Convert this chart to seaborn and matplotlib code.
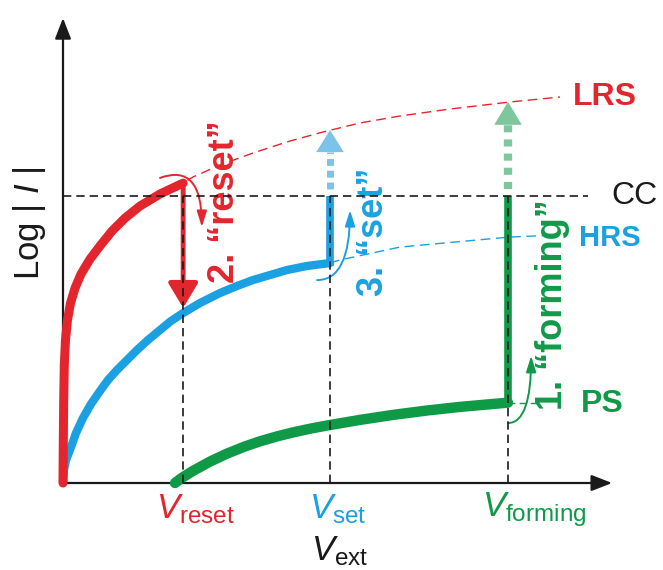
import numpy as np
import seaborn as sns
import matplotlib.pyplot as plt
from matplotlib.patches import FancyArrowPatch, Polygon

red = '#e3262d'
blue = '#1ba1e2'
green = '#0f9a48'
light_blue = '#7cc3ea'
light_green = '#7ec79c'
ink = '#1a1a1a'

# switching voltages and compliance current (arbitrary units)
v_reset, v_set, v_forming = 2.7, 6.0, 10.0
cc = 10.0

# LRS branch (red) up to the reset point
lrs_v = [0, 0.007, 0.016, 0.029, 0.056, 0.101, 0.169, 0.27, 0.404, 0.607, 0.831,
         1.101, 1.393, 1.73, 2.18, 2.7]
lrs_i = [0, 1.50, 2.89, 4.11, 4.98, 5.68, 6.27, 6.79, 7.28, 7.80, 8.26,
         8.78, 9.23, 9.65, 10.07, 10.45]

# HRS branch (blue) up to the set point
hrs_v = [0, 0.022, 0.067, 0.157, 0.292, 0.449, 0.629, 0.831, 1.011, 1.213, 1.438, 1.663,
         1.91, 2.18, 2.427, 2.7, 3.079, 3.528, 3.91, 4.27, 4.652, 5.034, 5.483, 6.0]
hrs_i = [0, 0.453, 0.801, 1.15, 1.742, 2.265, 2.753, 3.206, 3.589, 3.937, 4.286, 4.634,
         4.983, 5.331, 5.645, 5.923, 6.272, 6.62, 6.864, 7.073, 7.247, 7.422, 7.561, 7.666]

# pristine state (green) up to forming
ps_v = [2.517, 2.674, 2.921, 3.303, 3.685, 4.09, 4.427, 4.809, 5.169, 5.551, 5.933,
        6.674, 7.416, 8.18, 8.921, 10.0]
ps_i = [0, 0.183, 0.422, 0.746, 1.024, 1.275, 1.453, 1.624, 1.763, 1.892, 2.003,
        2.199, 2.373, 2.526, 2.652, 2.80]

# thin dashed continuations
lrs_ext_v = [2.8, 2.921, 3.528, 4.27, 5.101, 5.843, 6.674, 7.573, 8.697, 10.045, 11.169]
lrs_ext_i = [10.55, 10.662, 11.08, 11.498, 11.916, 12.23, 12.544, 12.787, 13.031, 13.275, 13.449]
hrs_ext_v = [6.0, 6.22, 7.57, 10.04, 11.1]
hrs_ext_i = [7.67, 7.77, 8.22, 8.57, 8.64]

reset_tip = 6.1
set_tip = 12.3
forming_tip = 13.28
v_axis_end, i_axis_end = 12.34, 16.2

sns.set_style('white')
plt.rcParams['font.family'] = ['Liberation Sans', 'DejaVu Sans']
plt.rcParams['mathtext.fontset'] = 'custom'
plt.rcParams['mathtext.rm'] = 'Liberation Sans'
plt.rcParams['mathtext.it'] = 'Liberation Sans:italic'

fig = plt.figure(figsize=(6.63, 5.70), dpi=100)
ax = fig.add_axes([0, 0, 1, 1])
ax.set_xlim(-1.4157, 13.483)
ax.set_ylim(-3.031, 16.829)
ax.axis('off')

# axes with arrows
for xy in [(v_axis_end, 0), (0, i_axis_end)]:
    ax.annotate('', xy=xy, xytext=(0, 0),
                arrowprops=dict(arrowstyle='-|>,head_length=0.9,head_width=0.35', mutation_scale=14,
                                lw=1.6, color=ink, shrinkA=0, shrinkB=0), zorder=2)

# thin dashed state lines
sns.lineplot(x=lrs_ext_v, y=lrs_ext_i, sort=False, estimator=None, color=red, linewidth=1.0,
             ax=ax, zorder=1).lines[-1].set_dashes((7, 4))
sns.lineplot(x=hrs_ext_v, y=hrs_ext_i, sort=False, estimator=None, color=blue, linewidth=1.0,
             ax=ax, zorder=1).lines[-1].set_dashes((7, 4))
ax.plot([v_forming, 10.7], [ps_i[-1], ps_i[-1]], color=green, lw=1.0, dashes=(5, 3), zorder=1)

# main curves
sns.lineplot(x=ps_v, y=ps_i, sort=False, estimator=None, color=green, linewidth=7.5, ax=ax,
             solid_capstyle='round', zorder=3)
ax.plot([v_forming, v_forming], [ps_i[-1] - 0.1, cc], color=green, lw=5.5, solid_capstyle='butt', zorder=3)
sns.lineplot(x=hrs_v, y=hrs_i, sort=False, estimator=None, color=blue, linewidth=6, ax=ax,
             solid_capstyle='round', zorder=3)
ax.plot([v_set, v_set], [hrs_i[-1] - 0.1, cc], color=blue, lw=5.5, solid_capstyle='butt', zorder=3)
sns.lineplot(x=lrs_v, y=lrs_i, sort=False, estimator=None, color=red, linewidth=6.5, ax=ax,
             solid_capstyle='round', zorder=4)

# reset arrow
ax.annotate('', xy=(v_reset, reset_tip), xytext=(v_reset, lrs_i[-1] - 0.1),
            arrowprops=dict(arrowstyle='-|>,head_length=1.0,head_width=0.6', mutation_scale=15,
                            lw=3.5, color=red, shrinkA=0, shrinkB=0), zorder=4)

# light dashed arrows (set, forming)
hw = 0.31
for v, tip, col, hl, lw, dsh in [(v_set, set_tip, light_blue, 0.77, 5, (1.0, 0.7)),
                                 (v_forming, forming_tip, light_green, 0.8, 6, (0.85, 0.85))]:
    ax.plot([v, v], [cc + 0.25, tip - hl], color=col, lw=lw, dashes=dsh,
            solid_capstyle='butt', dash_capstyle='butt', zorder=2)
    ax.add_patch(Polygon([(v - hw, tip - hl), (v + hw, tip - hl), (v, tip)],
                         closed=True, color=col, lw=0, zorder=2))

# black dashed guides
dash = dict(color=ink, lw=1.2, dashes=(5, 3), zorder=6)
ax.plot([0, 11.8], [cc, cc], **dash)
for v in [v_reset, v_set, v_forming]:
    ax.plot([v, v], [0, cc], **dash)

# curved process arrows
for a, b, col, ang in [((2.18, 10.63), (3.12, 8.92), red, 20),
                       ((5.71, 7.07), (6.45, 9.51), blue, 0),
                       ((10.0, 2.09), (10.52, 4.43), green, 0)]:
    ax.add_patch(FancyArrowPatch(a, b, connectionstyle=f'angle3,angleA={ang},angleB=90',
                                 arrowstyle='-|>,head_length=0.8,head_width=0.25', mutation_scale=12,
                                 lw=1.4, color=col, shrinkA=0, shrinkB=0, zorder=5))

# state labels
ax.text(12.18, 13.45, 'LRS', color=red, fontsize=23, fontweight='bold', ha='center', va='center')
ax.text(12.85, 10.0, 'CC', color=ink, fontsize=23, ha='center', va='center')
ax.text(12.29, 8.54, 'HRS', color=blue, fontsize=21, fontweight='bold', ha='center', va='center')
ax.text(12.11, 2.75, 'PS', color=green, fontsize=23, fontweight='bold', ha='center', va='center')

# process labels
ax.text(3.62, 9.79, '2. \u201creset\u201d', color=red, fontsize=26, fontweight='bold',
        rotation=90, ha='center', va='center')
ax.text(6.97, 8.75, '3. \u201cset\u201d', color=blue, fontsize=26, fontweight='bold',
        rotation=90, ha='center', va='center')
ax.text(11.0, 6.2, '1. \u201cforming\u201d', color=green, fontsize=26, fontweight='bold',
        rotation=90, ha='center', va='center')

# axis labels
ax.text(2.97, -0.91, r'$V_{\mathrm{reset}}$', color=red, fontsize=25, ha='center', va='center')
ax.text(6.17, -0.91, r'$V_{\mathrm{set}}$', color=blue, fontsize=25, ha='center', va='center')
ax.text(10.6, -0.91, r'$V_{\mathrm{forming}}$', color=green, fontsize=25, ha='center', va='center')
ax.text(6.22, -2.37, r'$V_{\mathrm{ext}}$', color=ink, fontsize=25, ha='center', va='center')
ax.text(-0.764, 9.06, r'Log | $I$ |', color=ink, fontsize=25, rotation=90, ha='center', va='center')

fig.savefig('out.png', dpi=100)
